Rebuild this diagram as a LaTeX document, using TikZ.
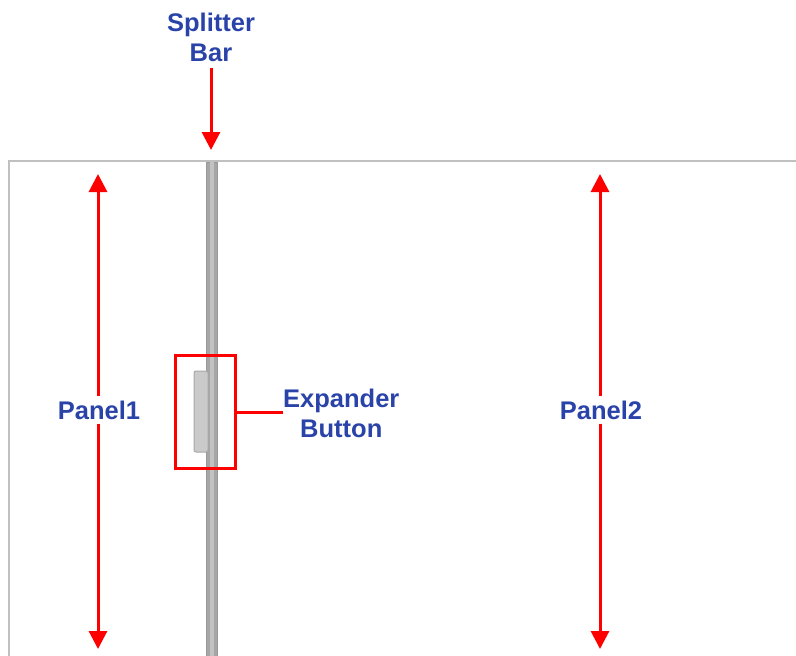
\documentclass[tikz,border=0pt]{standalone}
\usepackage{fontspec}
\setmainfont{Liberation Sans}
\usetikzlibrary{arrows.meta}
\definecolor{lblblue}{HTML}{2A43A8}
\definecolor{framegray}{HTML}{C0C0C0}
\definecolor{barfill}{HTML}{A6A6A6}
\definecolor{barmid}{HTML}{C2C2C2}
\definecolor{baredge}{HTML}{999999}
\definecolor{btnfill}{HTML}{CACACA}
\definecolor{btnedge}{HTML}{A8A8A8}
\tikzset{
  lbl/.style={text=lblblue, font=\bfseries\fontsize{25.5}{30}\selectfont, align=center, inner sep=2pt},
  redarrow/.style={draw=red, line width=3pt, -{Triangle[width=18pt,length=18pt]}},
  redbox/.style={draw=red, line width=3pt},
}
\begin{document}
\begin{tikzpicture}[x=1pt,y=-1pt]
\useasboundingbox (0,0) rectangle (796,656);
% frame
\draw[framegray, line width=2pt] (9,662) -- (9,161) -- (800,161);
% splitter bar
\filldraw[fill=barfill, draw=baredge, line width=1pt] (206,162) rectangle (217,662);
\fill[barmid] (209.5,162) rectangle (213.5,662);
% expander button
\filldraw[fill=btnfill, draw=btnedge, line width=1pt, rounded corners=2pt] (194,371) rectangle (208,452);
% red box around button
\node[redbox, minimum width=60pt, minimum height=113pt, inner sep=0pt] (box) at (205,411.5) {};
% labels
\node[lbl] (split) at (211,37) {Splitter\\Bar};
\coordinate (splittip) at (211,150);
\draw[redarrow] (211,68) -- (splittip);
\node[lbl, anchor=west, inner sep=0pt] (exp) at (283,413) {Expander\\Button};
\draw[red, line width=3pt] (box.east |- 0,412) -- (283,412);
% panel arrows
\node[lbl, fill=white, inner sep=4pt] (p1) at (99,410) {Panel1};
\coordinate (p1top) at (98,174);
\coordinate (p1bot) at (98,649);
\draw[redarrow] (p1.north -| p1top) -- (p1top);
\draw[redarrow] (p1.south -| p1bot) -- (p1bot);
\node[lbl, fill=white, inner sep=4pt] (p2) at (601,410) {Panel2};
\coordinate (p2top) at (600,174);
\coordinate (p2bot) at (600,649);
\draw[redarrow] (p2.north -| p2top) -- (p2top);
\draw[redarrow] (p2.south -| p2bot) -- (p2bot);
\end{tikzpicture}
\end{document}
